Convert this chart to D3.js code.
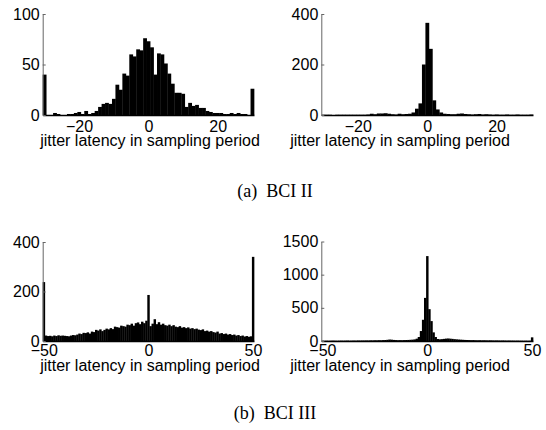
<!DOCTYPE html>
<html>
<head>
<meta charset="utf-8">
<script src="https://cdn.jsdelivr.net/npm/d3@7"></script>
<style>
  html, body { margin: 0; padding: 0; background: #fff; }
  svg { display: block; }
</style>
</head>
<body>
<svg id="chart" width="546" height="430"></svg>
<script>
// ---------- data ----------
const binsII = d3.range(-30, 31);   // bin centres, BCI II (jitter latency)
const binsIII = d3.range(-50, 51);  // bin centres, BCI III

const countsIIa = [
  40, 0, 0, 2, 1, 0, 0, 1, 1, 2,
  3, 1, 4, 1, 2, 4, 8, 11, 12, 11,
  16, 30, 25, 41, 39, 60, 58, 65, 64, 76,
  73, 67, 40, 61, 60, 51, 41, 31, 22, 22,
  21, 8, 12, 9, 10, 7, 7, 4, 3, 2,
  2, 2, 1, 1, 2, 1, 2, 1, 1, 0,
  26
];
const countsIIb = [
  1, 1, 1, 0, 1, 1, 1, 1, 1, 1,
  1, 1, 1, 2, 5, 3, 6, 6, 7, 5,
  3, 2, 5, 3, 4, 5, 10, 25, 46, 200,
  365, 262, 58, 22, 10, 5, 4, 3, 3, 5,
  6, 4, 3, 2, 3, 4, 2, 3, 2, 1,
  2, 1, 1, 2, 1, 1, 2, 1, 1, 1,
  2
];
const countsIIIa = [
  238,
  22, 20, 21, 19, 22, 20, 23, 21, 22, 21,
  20, 19, 22, 24, 23, 26, 30, 28, 33, 32,
  35, 30, 38, 36, 45, 42, 47, 40, 45, 50,
  47, 52, 48, 58, 56, 54, 62, 60, 58, 66,
  64, 70, 62, 72, 75, 68, 78, 72, 82,
  186,
  60, 70, 88, 68, 76, 66, 70, 64, 62, 66,
  60, 64, 58, 56, 60, 54, 56, 52, 55, 50,
  52, 48, 50, 46, 44, 47, 40, 42, 38, 40,
  36, 34, 38, 30, 32, 28, 30, 26, 28, 24,
  26, 22, 24, 20, 22, 18, 20, 17, 19,
  340
];
const countsIIIb = [
  5, 4, 5, 4, 5, 6, 5, 4, 5, 6,
  5, 6, 7, 5, 6, 7, 6, 8, 7, 8,
  8, 9, 8, 10, 9, 11, 10, 12, 11, 14,
  15, 18, 22, 20, 16, 14, 12, 13, 12, 14,
  15, 16, 18, 20, 24, 35, 60, 150, 320, 650,
  1280,
  480, 300, 130, 60, 30, 25, 28, 32, 36, 38,
  35, 32, 28, 25, 22, 20, 18, 16, 15, 14,
  13, 14, 12, 11, 12, 10, 11, 10, 9, 10,
  9, 8, 9, 8, 7, 8, 7, 6, 7, 6,
  6, 5, 6, 5, 5, 4, 5, 4, 5, 55
];

const xTicksII = [-20, 0, 20];
const xTicksIII = [-50, 0, 50];
const yTicksIIa = [0, 50, 100];
const yTicksIIb = [0, 200, 400];
const yTicksIIIa = [0, 200, 400];
const yTicksIIIb = [0, 500, 1000, 1500];
const xLabel = "jitter latency in sampling period";
const captions = ["(a)\u2002BCI II", "(b)\u2002BCI III"];

// ---------- layout ----------
const panels = [
  {bins: binsII, counts: countsIIa, xd: [-30.5, 30.5], yd: [0, 100], xt: xTicksII, yt: yTicksIIa,
   l: 42.7, r: 254, t: 14, b: 115, lx: 150, pad: 6, lab: 31},
  {bins: binsII, counts: countsIIb, xd: [-30.5, 30.5], yd: [0, 400], xt: xTicksII, yt: yTicksIIb,
   l: 321.3, r: 533, t: 14, b: 115, lx: 400, pad: 6, lab: 31},
  {bins: binsIII, counts: countsIIIa, xd: [-50.5, 50.5], yd: [0, 400], xt: xTicksIII, yt: yTicksIIIa,
   l: 42.7, r: 254, t: 242, b: 341, lx: 150, pad: 4, lab: 30},
  {bins: binsIII, counts: countsIIIb, xd: [-50.5, 50.5], yd: [0, 1500], xt: xTicksIII, yt: yTicksIIIb,
   l: 321.3, r: 533, t: 241.5, b: 341, lx: 400, pad: 4, lab: 30}
];

const svg = d3.select("#chart");
const FONT = "'Liberation Sans', Arial, Helvetica, sans-serif";
const FS = 16;

panels.forEach(p => {
  const x = d3.scaleLinear().domain(p.xd).range([p.l, p.r]);
  const y = d3.scaleLinear().domain(p.yd).range([p.b, p.t]);
  const g = svg.append("g");

  // bars
  g.selectAll("rect.bar")
    .data(p.bins.map((v, i) => ({v, c: p.counts[i]})))
    .join("rect")
    .attr("class", "bar")
    .attr("x", d => x(d.v - 0.5))
    .attr("width", d => x(d.v + 0.5) - x(d.v - 0.5) + 0.35)
    .attr("y", d => y(d.c))
    .attr("height", d => y(0) - y(d.c))
    .attr("fill", "#000");

  // baseline (x axis)
  const xAxis = d3.axisBottom(x).tickValues(p.xt).tickSize(0).tickPadding(p.pad)
    .tickFormat(d => d < 0 ? "\u2212" + Math.abs(d) : String(d));
  const gx = g.append("g").attr("transform", `translate(0,${p.b})`).call(xAxis);
  gx.select(".domain").attr("stroke", "#000").attr("stroke-width", 1.6);
  gx.selectAll("text").attr("font-family", FONT).attr("font-size", FS).attr("fill", "#000");

  // y axis
  const yAxis = d3.axisLeft(y).tickValues(p.yt).tickSize(0).tickPadding(3)
    .tickFormat(d3.format("d"));
  const gy = g.append("g").attr("transform", `translate(${p.l},0)`).call(yAxis);
  gy.select(".domain").attr("stroke", "#666").attr("stroke-width", 1);
  gy.selectAll("text").attr("font-family", FONT).attr("font-size", FS).attr("fill", "#000");
  // inward tick marks
  gy.selectAll(".tick").append("line")
    .attr("x1", 0).attr("x2", 3).attr("stroke", "#666").attr("stroke-width", 1);

  // x label
  g.append("text")
    .attr("x", p.lx).attr("y", p.b + p.lab)
    .attr("text-anchor", "middle")
    .attr("font-family", FONT).attr("font-size", FS)
    .text(xLabel);
});

// captions
const capY = [197, 419];
captions.forEach((c, i) => {
  svg.append("text")
    .attr("x", 275).attr("y", capY[i])
    .attr("text-anchor", "middle")
    .attr("font-family", "'Liberation Serif', 'Times New Roman', serif")
    .attr("font-size", 18)
    .text(c);
});
</script>
</body>
</html>
